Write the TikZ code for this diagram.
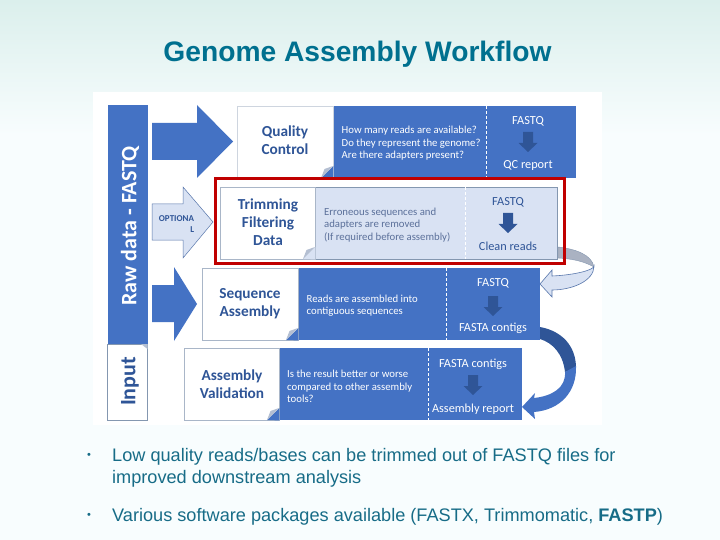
\documentclass[tikz,border=0pt]{standalone}
\usepackage{fontspec}
\setmainfont{Liberation Sans}
\newfontfamily\calfont{Carlito}
\definecolor{bluefill}{HTML}{4472C4}
\definecolor{bluedark}{HTML}{2F5597}
\definecolor{lightfill}{HTML}{D9E2F3}
\definecolor{edgegray}{HTML}{8497B0}
\definecolor{titlecol}{HTML}{00708F}
\definecolor{bodycol}{HTML}{176C87}
\definecolor{graydesc}{HTML}{5B709A}
\definecolor{foldcol}{HTML}{B4BFD2}
\definecolor{bgtop}{HTML}{DBEFEC}
\definecolor{bglow}{HTML}{F8FDFE}
\definecolor{redline}{HTML}{C00000}
\tikzset{
  box/.style={anchor=north west,inner sep=0pt,outer sep=0pt,minimum height=72pt},
  blue box/.style={box,fill=bluefill},
  pale box/.style={box,fill=lightfill,draw=edgegray,line width=0.7pt},
  white box/.style={box,fill=white,draw=edgegray!70,line width=0.7pt},
  block/.style={fill=bluefill},
  pale block/.style={fill=lightfill,draw=bluedark!80,line width=0.5pt},
  head/.style={font=\calfont\bfseries\fontsize{15.3}{18}\selectfont,text=bluedark,align=center,inner sep=0pt},
  desc/.style={font=\calfont\fontsize{10.75}{12.6}\selectfont,text=white,align=left,anchor=west,inner sep=0pt},
  io/.style={font=\calfont\fontsize{12.3}{13}\selectfont,text=white,inner sep=0pt},
  divider/.style={white,dashed,line width=0.6pt,dash pattern=on 3pt off 2pt},
  side/.style={font=\calfont\bfseries\fontsize{22}{24}\selectfont,rotate=90,inner sep=0pt},
  bullet text/.style={font=\fontsize{18.15}{22}\selectfont,text=bodycol,anchor=north west,align=left,inner sep=0pt},
  bullet mark/.style={font=\fontsize{11}{13}\selectfont,text=bodycol,inner sep=0pt},
}
\newcommand{\downarr}[3]{\fill[#1] (#2-5,#3) -- (#2+5,#3) -- (#2+5,#3+11) -- (#2+9.5,#3+11) -- (#2,#3+20) -- (#2-9.5,#3+11) -- (#2-5,#3+11) -- cycle;}
% corner fold: under colour, right x, bottom y of the white part
\newcommand{\cornerfold}[3]{\fill[#1] (#2-12,#3) -- (#2+0.4,#3-12) -- (#2+0.4,#3+0.4) -- cycle; \fill[foldcol] (#2-12,#3) -- (#2,#3-12) -- (#2-8.5,#3-9) -- cycle;}
\begin{document}
\begin{tikzpicture}[x=1pt,y=-1pt]
\useasboundingbox (0,0) rectangle (720,540);
\fill[bglow] (0,0) rectangle (720,540);
\shade[top color=bgtop,bottom color=bglow] (0,0) rectangle (720,135);
\fill[white] (93,92) rectangle (602,425);

\node[bullet text,text=titlecol,font=\bfseries\fontsize{28.2}{30}\selectfont,anchor=center] (title) at (357.5,54) {Genome Assembly Workflow};

% side bar
\node[box,fill=bluefill,minimum width=40pt,minimum height=239pt] (rawbar) at (107.5,105) {};
\node[box,fill=white,draw=edgegray,line width=0.6pt,minimum width=40pt,minimum height=76pt] (inputbar) at (107.5,344) {};
\fill[foldcol] (141,344) -- (147.5,344) -- (147.5,349) -- cycle;
\node[side,text=white] (rawlabel) at (130,226) {Raw data - FASTQ};
\node[side,text=bluedark] (inputlabel) at (130,381.5) {Input};

% block arrows
\fill[block] (152,123) -- (197,123) -- (197,105) -- (233,141.5) -- (197,178) -- (197,160) -- (152,160) -- cycle;
\draw[pale block] (152,204) -- (183,204) -- (183,187) -- (213,222) -- (183,258) -- (183,240) -- (152,240) -- cycle;
\fill[block] (152,285) -- (174,285) -- (174,267) -- (197,304) -- (174,341) -- (174,322) -- (152,322) -- cycle;
\node[font=\calfont\bfseries\fontsize{9}{11}\selectfont,text=bluedark,align=right,inner sep=0pt] (optional) at (176.5,224) {OPTIONA\\L};

% curved arrows
\fill[foldcol!80!gray,draw=edgegray,line width=0.4pt] (558,247) .. controls (576,249) and (592,255) .. (594,267) .. controls (585,262) and (575,259) .. (558,258) -- cycle;
\draw[pale block,line width=0.6pt] (594,266) .. controls (594,270) and (575,275) .. (552,276) -- (552,270) -- (540,284) -- (552,297) -- (552,290) .. controls (572,290) and (594,281) .. (594,266) -- cycle;
\fill[bluedark] (540,327) .. controls (562,331) and (576,346) .. (576,368) -- (565,372) .. controls (563,354) and (553,343) .. (540,339) -- cycle;
\fill[bluefill] (576,366) .. controls (577,392) and (560,410) .. (534,412) -- (535,419) -- (522,407) -- (535,393) -- (534,398) .. controls (552,396) and (566,388) .. (565,372) -- cycle;

% row 1
\node[blue box,minimum width=243pt] (qcblue) at (333,106) {};
\node[white box,minimum width=95.3pt,draw=edgegray!40] (qcwhite) at (237.7,106) {};
\cornerfold{bluefill}{333}{178}
\node[head] (qchead) at (285,140.5) {Quality\\Control};
\node[desc] (qcdesc) at (341.5,143.5) {How many reads are available?\\Do they represent the genome?\\Are there adapters present?};
\draw[divider] (486,106) -- (486,178);
\node[io] (qcin) at (528,121) {FASTQ};
\node[io] (qcout) at (528,166) {QC report};
\downarr{bluedark}{528}{132}

% row 2
\node[pale box,minimum width=337.7pt] (trimpale) at (220,187) {};
\node[white box,minimum width=95pt] (trimwhite) at (220,187) {};
\cornerfold{lightfill}{315}{259}
\node[head] (trimhead) at (268,222) {Trimming\\Filtering\\Data};
\node[desc,text=graydesc] (trimdesc) at (324,225) {Erroneous sequences and\\adapters are removed\\(If required before assembly)};
\draw[divider] (465,187) -- (465,259);
\node[io,text=bluedark] (trimin) at (508,202) {FASTQ};
\node[io,text=bluedark] (trimout) at (508,246) {Clean reads};
\downarr{bluedark}{508}{213}

% row 3
\node[blue box,minimum width=242pt] (seqblue) at (298,268) {};
\node[white box,minimum width=96pt] (seqwhite) at (202,268) {};
\cornerfold{bluefill}{298}{340}
\node[head] (seqhead) at (250,304) {Sequence\\Assembly};
\node[desc] (seqdesc) at (306.5,305.5) {Reads are assembled into\\contiguous sequences};
\draw[divider] (446,268) -- (446,340);
\node[io] (seqin) at (493,283) {FASTQ};
\node[io] (seqout) at (493,328) {FASTA contigs};
\downarr{bluedark}{493}{296}

% row 4
\node[blue box,minimum width=243pt] (valblue) at (279,348) {};
\node[white box,minimum width=95pt] (valwhite) at (184,348) {};
\cornerfold{bluefill}{279}{420}
\node[head] (valhead) at (232,384.5) {Assembly\\Validation};
\node[desc] (valdesc) at (287,386.5) {Is the result better or worse\\compared to other assembly\\tools?};
\draw[divider] (428,348) -- (428,420);
\node[io] (valin) at (473,364) {FASTA contigs};
\node[io] (valout) at (473,409) {Assembly report};
\downarr{bluedark}{473}{375}

% highlight
\node[draw=redline,line width=3pt,box,minimum width=349.5pt,minimum height=84pt] (highlight) at (215,179) {};

% bullets
\node[bullet mark] (b1dot) at (89,455.5) {•};
\node[bullet text] (b1) at (112,448.5) {Low quality reads/bases can be trimmed out of FASTQ files for\\improved downstream analysis};
\node[bullet mark] (b2dot) at (89,515.5) {•};
\node[bullet text] (b2) at (112,508.5) {Various software packages available (FASTX, Trimmomatic, \textbf{FASTP})};
\end{tikzpicture}
\end{document}
